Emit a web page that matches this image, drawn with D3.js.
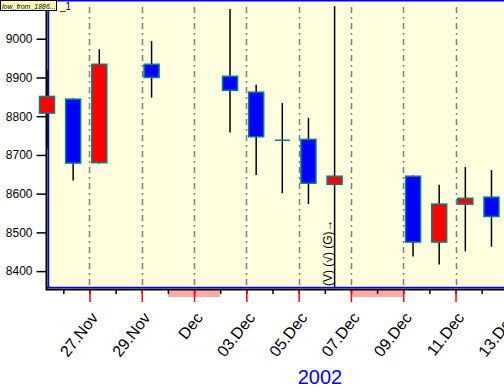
<!DOCTYPE html>
<html>
<head>
<meta charset="utf-8">
<script src="https://cdn.jsdelivr.net/npm/d3@7"></script>
<style>
  body { margin: 0; background: #fff; }
  svg { display: block; font-family: "Liberation Sans", Arial, sans-serif; }
</style>
</head>
<body>
<script>
// Candles (one per trading day)
const days   = ["2002-11-25", "2002-11-26", "2002-11-27", "2002-11-29", "2002-12-02", "2002-12-03",
                "2002-12-04", "2002-12-05", "2002-12-06", "2002-12-09", "2002-12-10", "2002-12-11", "2002-12-12"];
const opens  = [8808, 8844, 8680, 8934, 8903, 8862, 8738, 8740, 8624, 8645, 8475, 8573, 8591];
const highs  = [8919, 8846, 8973, 8994, 9077, 8881, 8834, 8796, 9084, 8647, 8623, 8669, 8661];
const lows   = [8716, 8634, 8678, 8848, 8758, 8648, 8601, 8573, 8359, 8438, 8417, 8451, 8463];
const closes = [8851, 8679, 8934, 8900, 8867, 8747, 8738, 8627, 8645, 8475, 8573, 8588, 8541];

// axis stuff
const yTicks = [8400, 8500, 8600, 8700, 8800, 8900, 9000];
const labelDays = ["2002-11-27", "2002-11-29", "2002-12-01", "2002-12-03", "2002-12-05",
                   "2002-12-07", "2002-12-09", "2002-12-11", "2002-12-13"];
const labelTexts = ["27.Nov", "29.Nov", "Dec", "03.Dec", "05.Dec", "07.Dec", "09.Dec", "11.Dec", "13.Dec"];
const weekendStarts = ["2002-11-30", "2002-12-07"];
const weekendEnds   = ["2002-12-02", "2002-12-09"];
const yearLabel = "2002";
const seriesName = "low_from_1886...";
const markerText = "(V) (\u221A) (G)\u2192";
const markerDay = "2002-12-06";

const width = 504, height = 388;
const plot = {left: 47, top: 0, right: 504, bottom: 288};

const parse = d3.utcParse("%Y-%m-%d");
// candles sit at 9:00 in the day
const candleTime = s => d3.utcHour.offset(parse(s), 9);

const data = days.map((d, i) => ({
    t: candleTime(d), o: opens[i], h: highs[i], l: lows[i], c: closes[i]
}));

const x = d3.scaleUtc()
    .domain([new Date(Date.UTC(2002, 10, 25, 9)), new Date(Date.UTC(2002, 11, 12, 20, 30))])
    .range([plot.left, plot.right]);

const y = d3.scaleLinear()
    .domain([8359, 9100])
    .range([plot.bottom - 1, plot.top]);

const svg = d3.select("body").append("svg")
    .attr("width", width)
    .attr("height", height);

// plot background
svg.append("rect")
    .attr("x", plot.left).attr("y", plot.top)
    .attr("width", plot.right - plot.left).attr("height", plot.bottom - plot.top)
    .attr("fill", "#FFFFE0");

// blue frame
svg.append("path")
    .attr("d", `M${plot.left + 1.5},${plot.bottom - 0.5}V0.75H${plot.right}M${plot.left},${plot.bottom - 0.5}H${plot.right}`)
    .attr("fill", "none").attr("stroke", "#0000FF").attr("stroke-width", 1.5);

// gridlines at the labelled days
svg.append("g").selectAll("line")
    .data(labelDays)
    .join("line")
    .attr("x1", d => Math.round(x(parse(d))) + 0.5).attr("x2", d => Math.round(x(parse(d))) + 0.5)
    .attr("y1", 7).attr("y2", plot.bottom)
    .attr("stroke", "#808080").attr("stroke-width", 1.5)
    .attr("stroke-dasharray", "6,4,2,4");

// weekend bands under the axis
svg.append("g").selectAll("rect")
    .data(weekendStarts)
    .join("rect")
    .attr("x", d => x(parse(d)))
    .attr("width", (d, i) => x(parse(weekendEnds[i])) - x(parse(d)))
    .attr("y", plot.bottom + 1).attr("height", 8)
    .attr("fill", "#FFAAAA");

// y axis
const yAxis = d3.axisLeft(y).tickValues(yTicks).tickSize(10).tickPadding(4).tickFormat(d3.format("d"));
const gy = svg.append("g")
    .attr("transform", `translate(${plot.left - 0.5},0)`)
    .call(yAxis);
gy.select(".domain").remove();
gy.selectAll(".tick line").attr("stroke", "#000").attr("stroke-width", 1.5);
gy.selectAll(".tick text")
    .attr("font-size", 12).attr("fill", "#000")
    .attr("font-family", "Liberation Sans, Arial, sans-serif");

// x axis - small day ticks
const dayTicks = d3.utcDay.range(parse("2002-11-26"), parse("2002-12-14"));
const gx = svg.append("g")
    .attr("transform", `translate(0,${plot.bottom + 1})`)
    .call(d3.axisBottom(x).tickValues(dayTicks).tickSize(5).tickFormat(""));
gx.select(".domain").remove();
gx.selectAll(".tick line").attr("stroke", "#000").attr("stroke-width", 1.5);

// x axis - labelled red ticks
const gx2 = svg.append("g")
    .attr("transform", `translate(0,${plot.bottom + 1})`)
    .call(d3.axisBottom(x)
        .tickValues(labelDays.map(parse))
        .tickSize(13)
        .tickFormat((d, i) => labelTexts[i]));
gx2.select(".domain").remove();
gx2.selectAll(".tick line").attr("stroke", "#FF0000").attr("stroke-width", 1.5);
gx2.selectAll(".tick text")
    .attr("font-size", 16).attr("fill", "#000")
    .attr("font-family", "Liberation Sans, Arial, sans-serif")
    .attr("text-anchor", "end")
    .attr("x", 0).attr("y", 0).attr("dy", 0)
    .attr("transform", "translate(9,29) rotate(-52)");

// black axis lines
svg.append("path")
    .attr("d", `M${plot.left - 0.5},0V${plot.bottom + 1.5}H${plot.right}`)
    .attr("fill", "none").attr("stroke", "#000").attr("stroke-width", 2);

// candles
const candleW = 15;
const candles = svg.append("g");

candles.selectAll(".wick")
    .data(data)
    .join("line")
    .attr("class", "wick")
    .attr("x1", d => x(d.t)).attr("x2", d => x(d.t))
    .attr("y1", d => y(d.h)).attr("y2", d => y(d.l))
    .attr("stroke", "#000").attr("stroke-width", 1.5);

candles.selectAll(".body")
    .data(data.filter(d => d.o !== d.c))
    .join("rect")
    .attr("class", "body")
    .attr("x", d => x(d.t) - candleW / 2)
    .attr("y", d => y(Math.max(d.o, d.c)))
    .attr("width", candleW)
    .attr("height", d => y(Math.min(d.o, d.c)) - y(Math.max(d.o, d.c)))
    .attr("fill", d => d.c > d.o ? "#FF0000" : "#0000FF")
    .attr("stroke", "#008080").attr("stroke-width", 1.5);

// doji just gets a flat line
candles.selectAll(".doji")
    .data(data.filter(d => d.o === d.c))
    .join("line")
    .attr("class", "doji")
    .attr("x1", d => x(d.t) - candleW / 2).attr("x2", d => x(d.t) + candleW / 2)
    .attr("y1", d => y(d.c)).attr("y2", d => y(d.c))
    .attr("stroke", "#008080").attr("stroke-width", 1.5);

// marker text next to the tall wick
svg.append("text")
    .attr("transform", `translate(${x(candleTime(markerDay)) - 3},${plot.bottom - 2}) rotate(-90)`)
    .attr("font-size", 12)
    .attr("fill", "#000")
    .text(markerText);

// series name tag, top left
svg.append("rect")
    .attr("x", 0.5).attr("y", 0.5).attr("width", 56).attr("height", 10)
    .attr("fill", "#FFFFC0").attr("stroke", "#000");
svg.append("text")
    .attr("x", 2).attr("y", 8.5)
    .attr("font-size", 7).attr("font-style", "italic")
    .text(seriesName);
svg.append("text")
    .attr("x", 60).attr("y", 10)
    .attr("font-size", 10)
    .text("_1");

// year under the axis
svg.append("text")
    .attr("x", 320).attr("y", 384)
    .attr("text-anchor", "middle")
    .attr("font-size", 20)
    .attr("fill", "#0000FF")
    .text(yearLabel);
</script>
</body>
</html>
